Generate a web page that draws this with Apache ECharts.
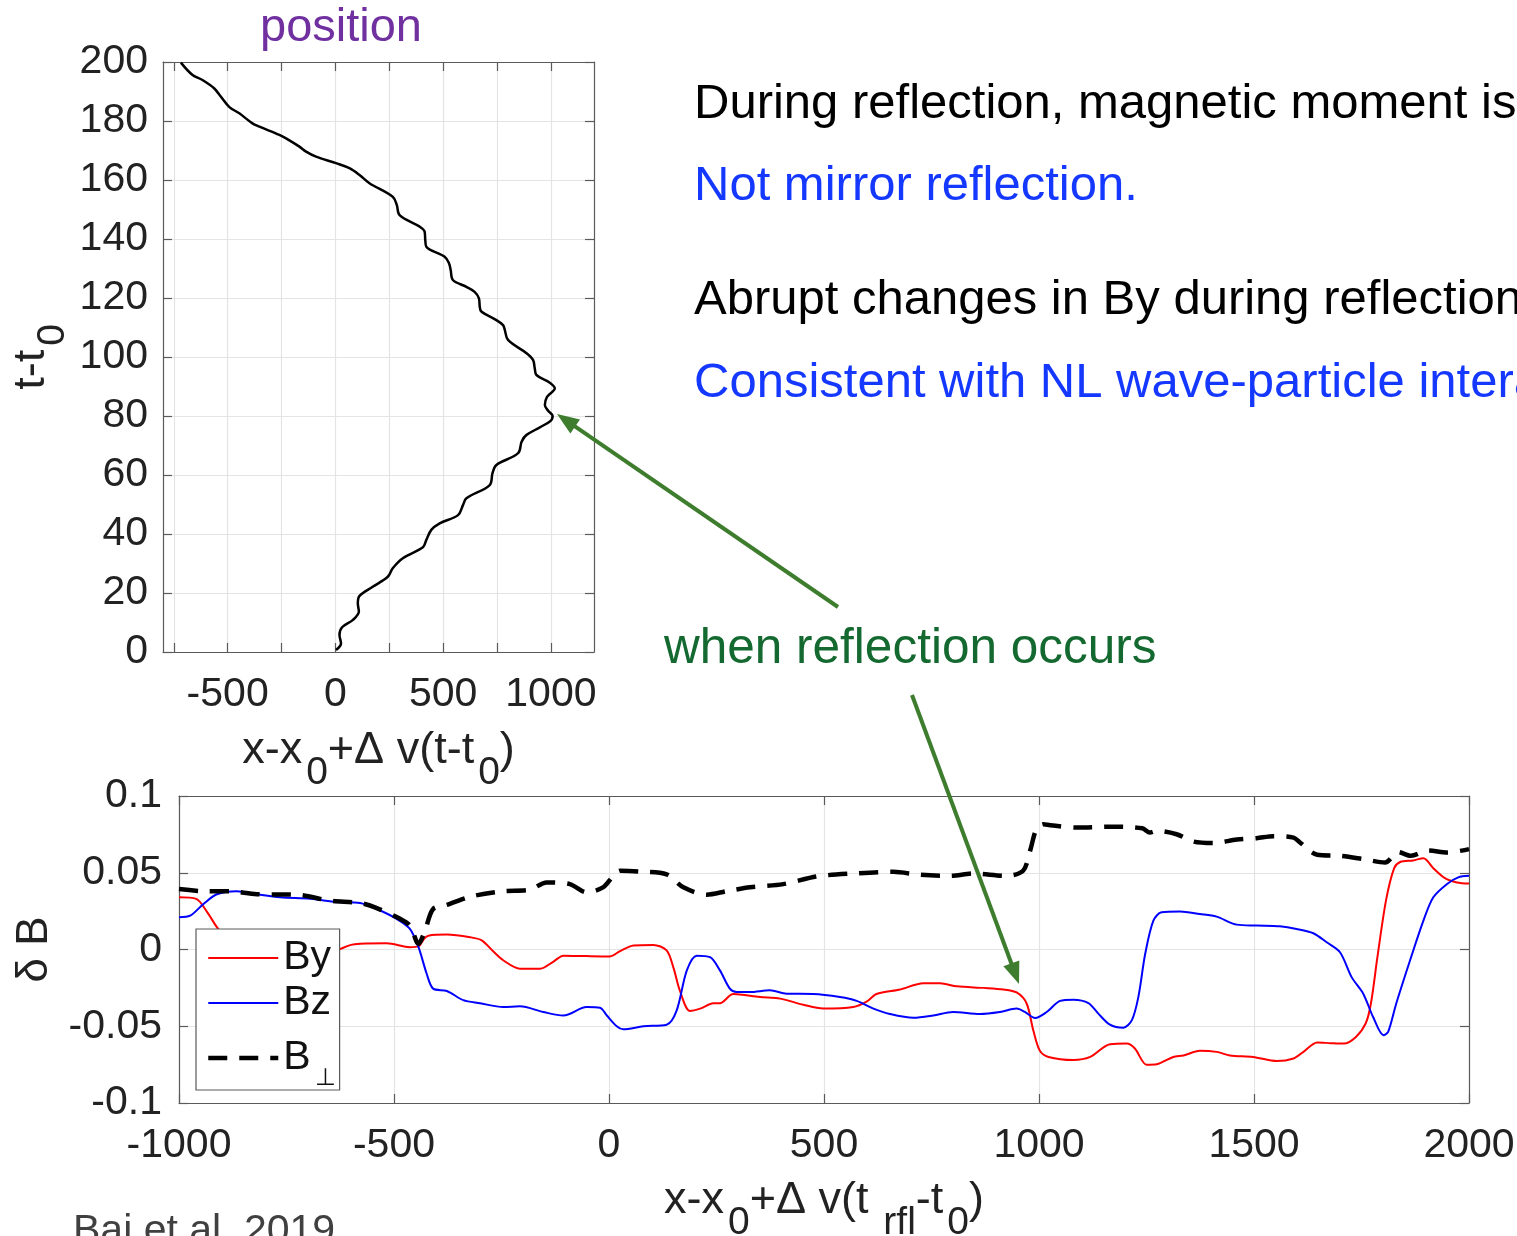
<!DOCTYPE html>
<html><head><meta charset="utf-8">
<script src="https://cdn.jsdelivr.net/npm/echarts@6/dist/echarts.min.js"></script>
<style>html,body{margin:0;padding:0;background:#fff;overflow:hidden}#c{width:1517px;height:1236px}</style>
</head><body><div id="c"></div>
<script>
// ---- Top panel: particle trajectory (x vs t) ----
const posX = [3, 26, 19, 31, 80, 109, 104, 112, 173, 243, 266, 313, 406, 422, 445, 484, 569, 592, 608, 716, 729, 747, 848, 864, 887, 995, 1008, 987, 972, 982, 1018, 995, 933, 925, 917, 887, 801, 786, 778, 747, 677, 670, 666, 646, 608, 545, 535, 527, 507, 422, 417, 414, 391, 298, 285, 266, 158, 112, 65, 3, -90, -136, -167, -229, -260, -353, -385, -446, -493, -531, -563, -617, -663, -717];
const posT = [0.7, 2.9, 5.8, 8.4, 10.8, 13.7, 16.5, 19, 22.1, 25.5, 28.4, 31.8, 35.5, 38, 41.4, 43.6, 46.4, 49.8, 52.1, 56.6, 60.6, 63.4, 67.4, 71.3, 73.6, 78.1, 80, 81.8, 83.7, 86.5, 89.4, 91.3, 93.9, 96.2, 99, 101.3, 105.8, 109.2, 110.8, 112.5, 115.4, 117, 119.9, 122.1, 123.8, 126.1, 129.5, 131.8, 134, 137.4, 139.7, 142.5, 144.2, 148.1, 151.5, 154.3, 158.9, 161.7, 164, 165.7, 167.9, 169.6, 171.3, 174.1, 175.3, 178.1, 179.2, 182.6, 184.8, 188.2, 191.1, 193.9, 195.6, 199.8];
const topXTickValues = [-750, -500, -250, 0, 250, 500, 750, 1000];
const topXLabelValues = [-500, 0, 500, 1000];

// ---- Bottom panel: delta B components ----
const byX = [-1000, -960, -936, -905, -870, -800, -700, -640, -600, -579, -517, -463, -443, -430, -420, -377, -323, -296, -270, -246, -207, -160, -130, -106, -52, 2, 26, 57, 103, 134, 150, 165, 188, 212, 243, 258, 289, 351, 398, 452, 498, 568, 599, 622, 677, 731, 770, 809, 871, 917, 948, 971, 987, 1002, 1022, 1080, 1119, 1165, 1204, 1223, 1250, 1274, 1312, 1336, 1374, 1413, 1444, 1498, 1553, 1592, 1615, 1647, 1678, 1709, 1737, 1760, 1772, 1787, 1807, 1826, 1840, 1870, 1894, 1917, 1944, 1972, 2000];
const byV = [0.034, 0.033, 0.025, 0.012, 0.004, 0.0, -0.003, -0.001, 0.003, 0.0037, 0.004, 0.0015, 0.002, 0.007, 0.009, 0.0097, 0.008, 0.006, -0.001, -0.007, -0.0125, -0.0125, -0.008, -0.004, -0.0043, -0.0045, -0.001, 0.0026, 0.003, -0.0006, -0.012, -0.027, -0.04, -0.0385, -0.035, -0.035, -0.029, -0.031, -0.032, -0.036, -0.0385, -0.0375, -0.034, -0.029, -0.026, -0.022, -0.022, -0.024, -0.025, -0.026, -0.028, -0.035, -0.053, -0.066, -0.07, -0.072, -0.07, -0.0617, -0.0613, -0.0645, -0.075, -0.0747, -0.07, -0.069, -0.066, -0.0667, -0.069, -0.07, -0.0727, -0.071, -0.0667, -0.0606, -0.061, -0.0613, -0.057, -0.048, -0.035, -0.005, 0.032, 0.053, 0.057, 0.058, 0.0595, 0.053, 0.0465, 0.0437, 0.043];
const bzX = [-1000, -974, -943, -912, -866, -819, -765, -695, -633, -579, -540, -494, -463, -443, -424, -409, -377, -339, -300, -246, -207, -153, -106, -52, -21, -5, 18, 33, 80, 134, 157, 181, 204, 235, 258, 281, 297, 328, 374, 413, 475, 537, 576, 615, 653, 708, 754, 800, 863, 909, 948, 967, 991, 1018, 1049, 1080, 1115, 1138, 1165, 1196, 1216, 1231, 1247, 1266, 1285, 1328, 1374, 1413, 1460, 1506, 1560, 1599, 1638, 1669, 1700, 1727, 1754, 1777, 1801, 1812, 1831, 1863, 1894, 1917, 1949, 1975, 2000];
const bzV = [0.021, 0.022, 0.0297, 0.036, 0.038, 0.036, 0.034, 0.033, 0.031, 0.0303, 0.0264, 0.02, 0.0134, 0.0015, -0.0158, -0.0255, -0.027, -0.033, -0.035, -0.0375, -0.037, -0.0407, -0.043, -0.0375, -0.038, -0.043, -0.05, -0.052, -0.05, -0.049, -0.04, -0.0136, -0.004, -0.005, -0.0136, -0.0255, -0.0277, -0.0277, -0.0266, -0.0288, -0.029, -0.031, -0.0335, -0.0385, -0.042, -0.0445, -0.043, -0.0407, -0.042, -0.0407, -0.0385, -0.0407, -0.0446, -0.0407, -0.0335, -0.0327, -0.0349, -0.0418, -0.049, -0.051, -0.046, -0.031, -0.0028, 0.0188, 0.0242, 0.0247, 0.0231, 0.0214, 0.0162, 0.0156, 0.0151, 0.0134, 0.0106, 0.0047, -0.0018, -0.018, -0.0288, -0.044, -0.0558, -0.0537, -0.035, -0.007, 0.0188, 0.034, 0.0427, 0.047, 0.048];
const bpX = [-1000, -943, -881, -819, -726, -649, -579, -540, -486, -463, -443, -428, -409, -377, -323, -246, -184, -145, -91, -52, -14, 10, 26, 72, 134, 173, 227, 274, 328, 405, 483, 568, 661, 723, 793, 847, 924, 963, 979, 994, 1010, 1026, 1088, 1173, 1240, 1258, 1274, 1320, 1359, 1405, 1460, 1506, 1545, 1592, 1607, 1647, 1700, 1754, 1805, 1835, 1865, 1905, 1949, 2000];
const bpV = [0.0394, 0.038, 0.0379, 0.036, 0.0357, 0.0318, 0.0303, 0.027, 0.02, 0.0156, 0.0037, 0.0123, 0.0264, 0.029, 0.0344, 0.038, 0.039, 0.0437, 0.0426, 0.0372, 0.0405, 0.048, 0.0513, 0.0508, 0.049, 0.0405, 0.0357, 0.038, 0.0405, 0.0426, 0.0476, 0.0495, 0.0506, 0.0487, 0.048, 0.0495, 0.048, 0.0513, 0.064, 0.0784, 0.0816, 0.081, 0.0794, 0.08, 0.079, 0.0762, 0.0773, 0.0751, 0.0703, 0.0693, 0.0716, 0.0725, 0.0738, 0.0729, 0.0697, 0.0617, 0.061, 0.0589, 0.0567, 0.0635, 0.061, 0.0645, 0.0632, 0.0654];
const seriesNames = ['By', 'Bz', 'B\u22A5'];

const FONT = '"Liberation Sans", Arial, Helvetica, sans-serif';
const AX = '#5a5a5a', GRIDC = '#e4e4e4', TXT = '#222';
const pairs = (xs, ys) => xs.map((x, i) => [x, ys[i]]);
const plainNum = v => String(v);

const chart = echarts.init(document.getElementById('c'), null, {renderer: 'canvas'});

function boxAxis(extra) {
  return Object.assign({
    type: 'value',
    axisLine: {show: true, onZero: false, lineStyle: {color: AX, width: 1.2}},
    axisTick: {show: true, inside: true, length: 9, lineStyle: {color: AX, width: 1.2}},
    axisLabel: {show: false},
    splitLine: {show: false}
  }, extra);
}
const tickLabel = {show: true, fontSize: 41, color: TXT, fontFamily: FONT, formatter: plainNum};
// main tokens padded at bottom, subscript tokens padded at top -> subscripts drop by ~22px
const nameRich = {
  m: {fontSize: 45, color: TXT, fontFamily: FONT, lineHeight: 46, padding: [0, 0, 22, 0]},
  s: {fontSize: 39, color: TXT, fontFamily: FONT, lineHeight: 46, padding: [22, 0, 0, 4]},
  d: {fontSize: 44, color: TXT, fontFamily: FONT, lineHeight: 46}
};

const option = {
  animation: false,
  backgroundColor: '#fff',
  grid: [
    {left: 163, top: 62, width: 431, height: 590, containLabel: false, outerBoundsMode: 'none'},
    {left: 179, top: 796, width: 1290, height: 307, containLabel: false, outerBoundsMode: 'none'}
  ],
  xAxis: [
    boxAxis({gridIndex: 0, position: 'bottom', min: -800, max: 1200,
      axisTick: {show: true, inside: true, length: 9, customValues: topXTickValues, lineStyle: {color: AX, width: 1.2}},
      axisLabel: Object.assign({customValues: topXLabelValues, margin: 22}, tickLabel),
      splitLine: {show: true, lineStyle: {color: GRIDC, width: 1.2}},
      name: '{m|x-x}{s|0}{m|+\u0394 v(t-t}{s|0}{m|)}', nameLocation: 'middle', nameGap: 87,
      nameTextStyle: {rich: nameRich}}),
    boxAxis({gridIndex: 0, position: 'top', min: -800, max: 1200,
      axisTick: {show: true, inside: true, length: 9, customValues: topXTickValues, lineStyle: {color: AX, width: 1.2}}}),
    boxAxis({gridIndex: 1, position: 'bottom', min: -1000, max: 2000, interval: 500,
      axisLabel: Object.assign({margin: 22}, tickLabel),
      splitLine: {show: true, lineStyle: {color: GRIDC, width: 1.2}},
      name: '{m|x-x}{s|0}{m|+\u0394 v(t}{s| rfl}{m|-t}{s|0}{m|)}', nameLocation: 'middle', nameGap: 86,
      nameTextStyle: {rich: nameRich}}),
    boxAxis({gridIndex: 1, position: 'top', min: -1000, max: 2000, interval: 500})
  ],
  yAxis: [
    boxAxis({gridIndex: 0, position: 'left', min: 0, max: 200, interval: 20,
      axisLabel: Object.assign({margin: 15, padding: [6, 0, 0, 0]}, tickLabel),
      splitLine: {show: true, lineStyle: {color: GRIDC, width: 1.2}},
      name: '{m|t-t}{s|0}', nameLocation: 'middle', nameRotate: 90, nameGap: 76,
      nameTextStyle: {rich: nameRich}}),
    boxAxis({gridIndex: 0, position: 'right', min: 0, max: 200, interval: 20}),
    boxAxis({gridIndex: 1, position: 'left', min: -0.1, max: 0.1, interval: 0.05,
      axisLabel: Object.assign({margin: 17, padding: [7, 0, 0, 0]}, tickLabel),
      splitLine: {show: true, lineStyle: {color: GRIDC, width: 1.2}},
      name: '{d|\u03B4 B}', nameLocation: 'middle', nameRotate: 90, nameGap: 121,
      nameTextStyle: {rich: nameRich}}),
    boxAxis({gridIndex: 1, position: 'right', min: -0.1, max: 0.1, interval: 0.05})
  ],
  legend: {
    orient: 'vertical', left: 196, top: 929,
    padding: [7, 4, 0, 10], itemGap: 1, itemWidth: 70, itemHeight: 20,
    backgroundColor: '#fff', borderColor: AX, borderWidth: 1.2,
    itemStyle: {opacity: 0},
    lineStyle: {width: 'inherit'},
    data: seriesNames,
    formatter: n => n === 'B\u22A5' ? '{b|B}{s|\u22A5}' : n,
    textStyle: {fontSize: 41, color: '#111', fontFamily: FONT, lineHeight: 44,
      rich: {
        b: {fontSize: 41, color: '#111', fontFamily: FONT, lineHeight: 44},
        s: {fontSize: 24, color: '#111', fontFamily: FONT, lineHeight: 24, padding: [40, 0, 0, 4]}
      }}
  },
  series: [
    {name: 'position', type: 'line', xAxisIndex: 0, yAxisIndex: 0, data: pairs(posX, posT),
      symbol: 'none', smooth: 0.35, lineStyle: {color: '#000', width: 2.5}},
    {name: seriesNames[0], type: 'line', xAxisIndex: 2, yAxisIndex: 2, data: pairs(byX, byV),
      symbol: 'none', smooth: 0.3, color: '#ff0000', lineStyle: {color: '#ff0000', width: 2}},
    {name: seriesNames[1], type: 'line', xAxisIndex: 2, yAxisIndex: 2, data: pairs(bzX, bzV),
      symbol: 'none', smooth: 0.3, color: '#0000ff', lineStyle: {color: '#0000ff', width: 2}},
    {name: seriesNames[2], type: 'line', xAxisIndex: 2, yAxisIndex: 2, data: pairs(bpX, bpV), z: 3,
      symbol: 'none', smooth: 0.3, color: '#000', lineStyle: {color: '#000', width: 4.5, type: [19, 12]}}
  ]
};
chart.setOption(option);

// ---- annotations ----
function arrow(x1, y1, x2, y2, color) {
  const dx = x2 - x1, dy = y2 - y1, L = Math.hypot(dx, dy), ux = dx / L, uy = dy / L;
  const hl = 22, hw = 8.5;
  const bx = x2 - ux * hl, by = y2 - uy * hl;
  return [
    {type: 'line', z: 100, shape: {x1, y1, x2: bx + ux * 2, y2: by + uy * 2}, style: {stroke: color, lineWidth: 4}},
    {type: 'polygon', z: 100, shape: {points: [[x2, y2], [bx - uy * hw, by + ux * hw], [bx + uy * hw, by - ux * hw]]}, style: {fill: color}}
  ];
}
function txt(x, y, s, color, size, align) {
  return {type: 'text', z: 100, x, y, style: {text: s, fill: color, font: size + 'px ' + FONT, verticalAlign: 'middle', align: align || 'left'}};
}
const GREEN = '#3d7d2d';
chart.setOption({graphic: [].concat(
  [txt(341, 28, 'position', '#7030a0', 47, 'center')],
  [txt(694, 104, 'During reflection, magnetic moment is not conserved.', '#000', 49)],
  [txt(694, 186, 'Not mirror reflection.', '#1438ff', 49)],
  [txt(694, 300, 'Abrupt changes in By during reflection', '#000', 49)],
  [txt(694, 383, 'Consistent with NL wave-particle interaction', '#1438ff', 49)],
  [txt(664, 649, 'when reflection occurs', '#13692f', 49.5)],
  [txt(73, 1232, 'Bai et al. 2019', '#404040', 41)],
  arrow(838, 607, 557, 414, GREEN),
  arrow(912, 695, 1019, 984, GREEN)
)});
</script></body></html>
